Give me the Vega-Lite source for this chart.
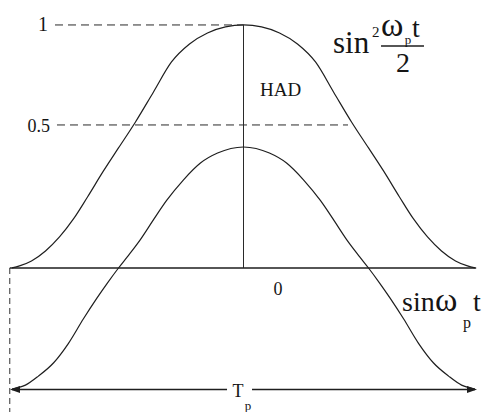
{
  "$schema": "https://vega.github.io/schema/vega-lite/v6.json",
  "width": 482,
  "height": 412,
  "padding": 0,
  "autosize": {"type": "none"},
  "background": "white",
  "config": {"view": {"stroke": null}},
  "layer": [
    {
      "description": "Upper half: the sin^2 pulse on a value axis compressed toward the top (levels 0, 0.5, 1)",
      "encoding": {
        "x": {"field": "t", "type": "quantitative", "scale": {"domain": [-0.5259, 0.5151], "nice": false, "zero": false}, "axis": null},
        "y": {"field": "v", "type": "quantitative", "scale": {"type": "pow", "exponent": 0.765, "domain": [-0.505, 1.1364], "nice": false, "zero": false}, "axis": null}
      },
      "layer": [
        {
          "data": {"values": [
            {"t": -0.5, "v": 0}, {"t": -0.4838, "v": 0.0019}, {"t": -0.4579, "v": 0.0097},
            {"t": -0.4276, "v": 0.0309}, {"t": -0.3974, "v": 0.0678}, {"t": -0.3672, "v": 0.1233},
            {"t": -0.3369, "v": 0.2002}, {"t": -0.3024, "v": 0.3011}, {"t": -0.27, "v": 0.3976},
            {"t": -0.2333, "v": 0.5138}, {"t": -0.1944, "v": 0.656}, {"t": -0.1555, "v": 0.8058},
            {"t": -0.1166, "v": 0.899}, {"t": -0.0778, "v": 0.9572}, {"t": -0.0389, "v": 0.9893},
            {"t": 0, "v": 1},
            {"t": 0.0389, "v": 0.9893}, {"t": 0.0778, "v": 0.9572}, {"t": 0.1166, "v": 0.899},
            {"t": 0.1555, "v": 0.8058}, {"t": 0.1944, "v": 0.656}, {"t": 0.2333, "v": 0.5138},
            {"t": 0.27, "v": 0.3976}, {"t": 0.3024, "v": 0.3011}, {"t": 0.3369, "v": 0.2002},
            {"t": 0.3672, "v": 0.1233}, {"t": 0.3974, "v": 0.0678}, {"t": 0.4276, "v": 0.0309},
            {"t": 0.4579, "v": 0.0097}, {"t": 0.4838, "v": 0.0019}, {"t": 0.5, "v": 0}
          ]},
          "mark": {"type": "line", "interpolate": "monotone", "color": "#1e1e1e", "strokeWidth": 1.2}
        },
        {
          "data": {"values": [
            {"t": -0.4071, "t2": 0, "v": 1},
            {"t": -0.4028, "t2": 0.2257, "v": 0.5}
          ]},
          "mark": {"type": "rule", "color": "#2a2a2a", "strokeWidth": 1, "strokeDash": [8, 5]},
          "encoding": {"x2": {"field": "t2"}}
        },
        {
          "data": {"values": [{"t": 0, "v": 0, "v2": 1}]},
          "mark": {"type": "rule", "color": "#2a2a2a", "strokeWidth": 1},
          "encoding": {"y2": {"field": "v2"}}
        }
      ]
    },
    {
      "description": "Lower half: sin(wp t), the zero line, the period arrow and all labels",
      "encoding": {
        "x": {"field": "t", "type": "quantitative", "scale": {"domain": [-0.5259, 0.5151], "nice": false, "zero": false}, "axis": null},
        "y": {"field": "v", "type": "quantitative", "scale": {"domain": [-0.5926, 1.1029], "nice": false, "zero": false}, "axis": null}
      },
      "layer": [
        {
          "data": {"values": [
            {"t": -0.5, "v": -0.498}, {"t": -0.471, "v": -0.482}, {"t": -0.443, "v": -0.445},
            {"t": -0.41, "v": -0.39}, {"t": -0.378, "v": -0.31}, {"t": -0.346, "v": -0.21},
            {"t": -0.317, "v": -0.125}, {"t": -0.294, "v": -0.062}, {"t": -0.27, "v": 0},
            {"t": -0.251, "v": 0.046}, {"t": -0.2235, "v": 0.115}, {"t": -0.195, "v": 0.197},
            {"t": -0.166, "v": 0.278}, {"t": -0.13, "v": 0.362}, {"t": -0.093, "v": 0.432},
            {"t": -0.056, "v": 0.473}, {"t": 0, "v": 0.498},
            {"t": 0.056, "v": 0.473}, {"t": 0.093, "v": 0.432}, {"t": 0.13, "v": 0.362},
            {"t": 0.166, "v": 0.278}, {"t": 0.195, "v": 0.197}, {"t": 0.2235, "v": 0.115},
            {"t": 0.251, "v": 0.046}, {"t": 0.27, "v": 0}, {"t": 0.294, "v": -0.062},
            {"t": 0.317, "v": -0.125}, {"t": 0.346, "v": -0.21}, {"t": 0.378, "v": -0.31},
            {"t": 0.41, "v": -0.39}, {"t": 0.443, "v": -0.445}, {"t": 0.471, "v": -0.482},
            {"t": 0.5, "v": -0.498}
          ]},
          "mark": {"type": "line", "interpolate": "monotone", "color": "#1e1e1e", "strokeWidth": 1.2}
        },
        {
          "data": {"values": [
            {"t": -0.5048, "t2": 0.5025, "v": 0},
            {"t": -0.5, "t2": -0.0356, "v": -0.5},
            {"t": 0.0184, "t2": 0.5, "v": -0.5},
            {"t": 0.297, "t2": 0.3898, "v": 0.9136}
          ]},
          "mark": {"type": "rule", "color": "#1e1e1e", "strokeWidth": 1.5},
          "encoding": {"x2": {"field": "t2"}}
        },
        {
          "data": {"values": [{"t": -0.5048, "v": 0, "v2": -0.5926}]},
          "mark": {"type": "rule", "color": "#333333", "strokeWidth": 1, "strokeDash": [6, 4]},
          "encoding": {"y2": {"field": "v2"}}
        },
        {
          "data": {"values": [{"t": -0.5043, "v": -0.5}]},
          "mark": {"type": "point", "shape": "M0,0L2,-0.7L2,0.7Z", "size": 100, "filled": true, "opacity": 1, "color": "#1e1e1e"}
        },
        {
          "data": {"values": [{"t": 0.5043, "v": -0.5}]},
          "mark": {"type": "point", "shape": "M0,0L-2,-0.7L-2,0.7Z", "size": 100, "filled": true, "opacity": 1, "color": "#1e1e1e"}
        },
        {
          "data": {"values": [{"t": -0.4222, "v": 0.9753, "label": "1"}]},
          "mark": {"type": "text", "font": "Liberation Serif, Times New Roman, serif", "color": "#151515", "baseline": "alphabetic", "fontSize": 20, "align": "right"},
          "encoding": {"text": {"field": "label"}}
        },
        {
          "data": {"values": [{"t": -0.4179, "v": 0.5597, "label": "0.5"}]},
          "mark": {"type": "text", "font": "Liberation Serif, Times New Roman, serif", "color": "#151515", "baseline": "alphabetic", "fontSize": 18, "align": "right"},
          "encoding": {"text": {"field": "label"}}
        },
        {
          "data": {"values": [{"t": 0.0356, "v": 0.7078, "label": "HAD"}]},
          "mark": {"type": "text", "font": "Liberation Serif, Times New Roman, serif", "color": "#151515", "baseline": "alphabetic", "fontSize": 19, "align": "left"},
          "encoding": {"text": {"field": "label"}}
        },
        {
          "data": {"values": [{"t": 0.1933, "v": 0.8848, "label": "sin"}]},
          "mark": {"type": "text", "font": "Liberation Serif, Times New Roman, serif", "color": "#151515", "baseline": "alphabetic", "fontSize": 31, "align": "left"},
          "encoding": {"text": {"field": "label"}}
        },
        {
          "data": {"values": [
            {"t": 0.3639, "v": 0.9506, "label": "t"},
            {"t": 0.3423, "v": -0.177, "label": "sin"},
            {"t": 0.4957, "v": -0.177, "label": "t"}
          ]},
          "mark": {"type": "text", "font": "Liberation Serif, Times New Roman, serif", "color": "#151515", "baseline": "alphabetic", "fontSize": 28, "align": "left"},
          "encoding": {"text": {"field": "label"}}
        },
        {
          "data": {"values": [
            {"t": 0.297, "v": 0.9547, "label": "ω"},
            {"t": 0.4136, "v": -0.177, "label": "ω"}
          ]},
          "mark": {"type": "text", "font": "Liberation Serif, Times New Roman, serif", "color": "#151515", "baseline": "alphabetic", "fontSize": 34, "align": "left"},
          "encoding": {"text": {"field": "label"}}
        },
        {
          "data": {"values": [{"t": 0.3445, "v": 0.8066, "label": "2"}]},
          "mark": {"type": "text", "font": "Liberation Serif, Times New Roman, serif", "color": "#151515", "baseline": "alphabetic", "fontSize": 28, "align": "center"},
          "encoding": {"text": {"field": "label"}}
        },
        {
          "data": {"values": [{"t": 0.2775, "v": 0.9506, "label": "2"}]},
          "mark": {"type": "text", "font": "Liberation Serif, Times New Roman, serif", "color": "#151515", "baseline": "alphabetic", "fontSize": 15, "align": "left"},
          "encoding": {"text": {"field": "label"}}
        },
        {
          "data": {"values": [
            {"t": 0.3553, "v": 0.9218, "label": "p"},
            {"t": 0.0097, "v": -0.5844, "label": "p"}
          ]},
          "mark": {"type": "text", "font": "Liberation Serif, Times New Roman, serif", "color": "#151515", "baseline": "alphabetic", "fontSize": 13, "align": "center"},
          "encoding": {"text": {"field": "label"}}
        },
        {
          "data": {"values": [{"t": 0.4741, "v": -0.2469, "label": "p"}]},
          "mark": {"type": "text", "font": "Liberation Serif, Times New Roman, serif", "color": "#151515", "baseline": "alphabetic", "fontSize": 16, "align": "left"},
          "encoding": {"text": {"field": "label"}}
        },
        {
          "data": {"values": [
            {"t": 0.0745, "v": -0.1111, "label": "0"},
            {"t": -0.0119, "v": -0.5309, "label": "T"}
          ]},
          "mark": {"type": "text", "font": "Liberation Serif, Times New Roman, serif", "color": "#151515", "baseline": "alphabetic", "fontSize": 18, "align": "center"},
          "encoding": {"text": {"field": "label"}}
        }
      ]
    }
  ],
  "resolve": {"scale": {"y": "independent"}}
}
